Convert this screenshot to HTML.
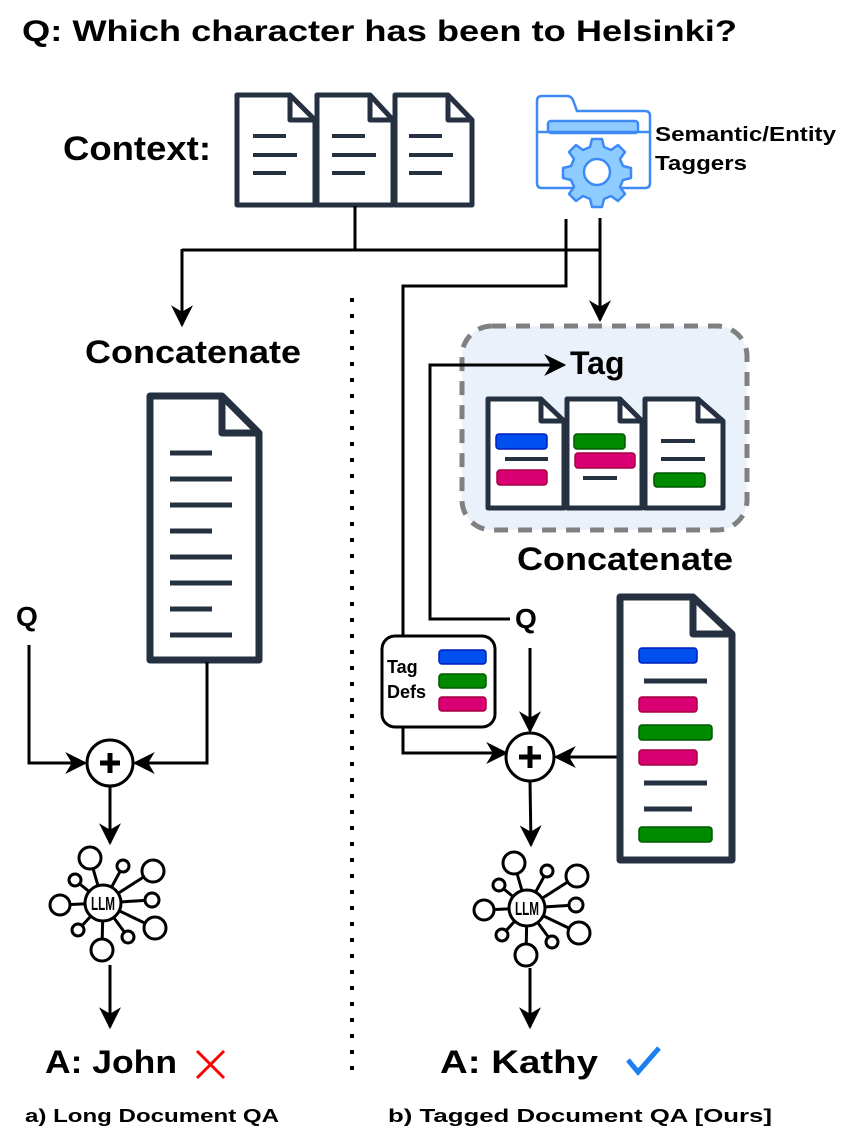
<!DOCTYPE html>
<html><head><meta charset="utf-8"><style>
html,body{margin:0;padding:0;background:#fff;}
svg{display:block;}
text{font-family:"Liberation Sans",Arial,sans-serif;font-weight:bold;fill:#000;}
</style></head><body>
<svg width="846" height="1145" viewBox="0 0 846 1145" xmlns="http://www.w3.org/2000/svg">
<defs>
<marker id="ah" viewBox="0 0 20 20" refX="18" refY="10" markerWidth="22" markerHeight="22" markerUnits="userSpaceOnUse" orient="auto">
<path d="M0,0 L20,10 L0,20 L6,10 Z" fill="#000"/>
</marker>
<g id="llm">
<g fill="#fff" stroke="#000" stroke-width="3">
<line x1="0" y1="0" x2="-13" y2="-45"/><line x1="0" y1="0" x2="20" y2="-37"/><line x1="0" y1="0" x2="50" y2="-32"/>
<line x1="0" y1="0" x2="-28" y2="-23"/><line x1="0" y1="0" x2="-43" y2="2"/><line x1="0" y1="0" x2="49" y2="-3"/>
<line x1="0" y1="0" x2="-25" y2="27"/><line x1="0" y1="0" x2="52" y2="25"/><line x1="0" y1="0" x2="25" y2="34"/><line x1="0" y1="0" x2="-1" y2="47"/>
<circle cx="-13" cy="-45" r="11"/><circle cx="20" cy="-37" r="6"/><circle cx="50" cy="-32" r="11"/>
<circle cx="-28" cy="-23" r="6"/><circle cx="-43" cy="2" r="10"/><circle cx="49" cy="-3" r="7"/>
<circle cx="-25" cy="27" r="6"/><circle cx="52" cy="25" r="11"/><circle cx="25" cy="34" r="6"/><circle cx="-1" cy="47" r="11"/>
<circle cx="0" cy="0" r="18"/>
</g>
<text x="0" y="7" font-size="18" text-anchor="middle" textLength="24" lengthAdjust="spacingAndGlyphs">LLM</text>
</g>
</defs>

<text x="22" y="41" font-size="30" textLength="715" lengthAdjust="spacingAndGlyphs">Q: Which character has been to Helsinki?</text>
<text x="63" y="160" font-size="34" textLength="148" lengthAdjust="spacingAndGlyphs">Context:</text>

<g fill="#fff" stroke="#253040" stroke-width="5" stroke-linejoin="round">
<path d="M237,95 H290 L315,120 V205 H237 Z"/><path d="M290,95 V120 H315" fill="none"/>
<path d="M317,95 H370 L393,120 V205 H317 Z"/><path d="M370,95 V120 H393" fill="none"/>
<path d="M395,95 H448 L472,120 V205 H395 Z"/><path d="M448,95 V120 H472" fill="none"/>
</g>
<g stroke="#253040" stroke-width="4">
<line x1="253" y1="136" x2="286" y2="136"/><line x1="253" y1="155" x2="297" y2="155"/><line x1="253" y1="173" x2="286" y2="173"/>
<line x1="332" y1="136" x2="365" y2="136"/><line x1="332" y1="155" x2="376" y2="155"/><line x1="332" y1="173" x2="365" y2="173"/>
<line x1="409" y1="136" x2="442" y2="136"/><line x1="409" y1="155" x2="453" y2="155"/><line x1="409" y1="173" x2="442" y2="173"/>
</g>

<g stroke="#3d8af7" stroke-width="2.5" fill="#fff">
<path d="M537,101 Q537,96 542,96 H567 Q571,96 573,100 L577,111 H645 Q650,111 650,116 V183 Q650,188 645,188 H542 Q537,188 537,183 Z"/>
<rect x="548" y="121" width="90" height="12" rx="3" fill="#8ecbff"/>
<line x1="537" y1="132" x2="650" y2="132"/>
<path d="M592,139 h10 l2,8 l7,3 l7,-5 l7,7 l-5,7 l3,7 l8,2 v10 l-8,2 l-3,7 l5,7 l-7,7 l-7,-5 l-7,3 l-2,8 h-10 l-2,-8 l-7,-3 l-7,5 l-7,-7 l5,-7 l-3,-7 l-8,-2 v-10 l8,-2 l3,-7 l-5,-7 l7,-7 l7,5 l7,-3 Z" fill="#8ecbff" stroke-linejoin="round"/>
<circle cx="597" cy="172" r="13" fill="#fff"/>
</g>
<text x="655" y="141" font-size="20" textLength="181" lengthAdjust="spacingAndGlyphs">Semantic/Entity</text>
<text x="655" y="170" font-size="20" textLength="92" lengthAdjust="spacingAndGlyphs">Taggers</text>

<g stroke="#000" stroke-width="3" fill="none">
<line x1="355" y1="206" x2="355" y2="250"/>
<line x1="182" y1="250" x2="600" y2="250"/>
<line x1="182" y1="249" x2="182" y2="325" marker-end="url(#ah)"/>
<line x1="600" y1="218" x2="600" y2="320" marker-end="url(#ah)"/>
<polyline points="566,219 566,286 403,286 403,637"/>
</g>

<line x1="352" y1="298" x2="352" y2="1082" stroke="#000" stroke-width="4" stroke-dasharray="4,12"/>

<text x="85" y="363" font-size="32" textLength="216" lengthAdjust="spacingAndGlyphs">Concatenate</text>
<g fill="#fff" stroke="#253040" stroke-width="7" stroke-linejoin="round">
<path d="M150,396 H222 L259,433 V660 H150 Z"/><path d="M222,396 V433 H259" fill="none"/>
</g>
<g stroke="#253040" stroke-width="5">
<line x1="170" y1="453" x2="212" y2="453"/><line x1="170" y1="479" x2="232" y2="479"/>
<line x1="170" y1="505" x2="232" y2="505"/><line x1="170" y1="531" x2="212" y2="531"/>
<line x1="170" y1="557" x2="232" y2="557"/><line x1="170" y1="583" x2="232" y2="583"/>
<line x1="170" y1="609" x2="212" y2="609"/><line x1="170" y1="635" x2="232" y2="635"/>
</g>
<text x="16" y="626" font-size="28">Q</text>
<g stroke="#000" stroke-width="3" fill="none">
<polyline points="29,645 29,763 85,763" marker-end="url(#ah)"/>
<polyline points="207,662 207,763 135,763" marker-end="url(#ah)"/>
<line x1="110" y1="787" x2="110" y2="843" marker-end="url(#ah)"/>
<line x1="110" y1="965" x2="110" y2="1027" marker-end="url(#ah)"/>
</g>
<circle cx="110" cy="763" r="23" fill="#fff" stroke="#000" stroke-width="3"/>
<path d="M100,763 H120 M110,753 V773" stroke="#000" stroke-width="5"/>
<use href="#llm" x="103" y="903"/>
<text x="45" y="1073" font-size="32" textLength="132" lengthAdjust="spacingAndGlyphs">A: John</text>
<path d="M197,1051 L224,1078 M224,1051 L197,1078" stroke="#f00" stroke-width="3"/>
<text x="25" y="1122" font-size="18" textLength="254" lengthAdjust="spacingAndGlyphs">a) Long Document QA</text>

<rect x="462" y="326" width="285" height="204" rx="30" fill="#eaf1fb" stroke="#808080" stroke-width="5" stroke-dasharray="14,10"/>
<text x="570" y="374" font-size="32">Tag</text>
<g fill="#fff" stroke="#253040" stroke-width="5" stroke-linejoin="round">
<path d="M488,399 H541 L564,421 V508 H488 Z"/><path d="M541,399 V421 H564" fill="none"/>
<path d="M567,399 H620 L642,421 V508 H567 Z"/><path d="M620,399 V421 H642" fill="none"/>
<path d="M645,399 H698 L723,421 V508 H645 Z"/><path d="M698,399 V421 H723" fill="none"/>
</g>
<g stroke-width="1.5">
<rect x="496" y="434" width="51" height="15" rx="3" fill="#0050ef" stroke="#001dbc"/>
<rect x="497" y="470" width="50" height="15" rx="3" fill="#d80073" stroke="#a50040"/>
<rect x="574" y="434" width="51" height="15" rx="3" fill="#008a00" stroke="#005700"/>
<rect x="575" y="453" width="60" height="15" rx="3" fill="#d80073" stroke="#a50040"/>
<rect x="654" y="473" width="51" height="14" rx="3" fill="#008a00" stroke="#005700"/>
</g>
<g stroke="#253040" stroke-width="4">
<line x1="505" y1="459" x2="548" y2="459"/><line x1="583" y1="478" x2="617" y2="478"/>
<line x1="661" y1="441" x2="695" y2="441"/><line x1="661" y1="459" x2="705" y2="459"/>
</g>
<text x="517" y="570" font-size="32" textLength="216" lengthAdjust="spacingAndGlyphs">Concatenate</text>
<text x="515" y="628" font-size="28">Q</text>

<g stroke="#000" stroke-width="3" fill="none">
<polyline points="510,619 430,619 430,365 564,365" marker-end="url(#ah)"/>
<line x1="530" y1="648" x2="530" y2="731" marker-end="url(#ah)"/>
<polyline points="403,727 403,753 506,753" marker-end="url(#ah)"/>
<line x1="618" y1="757" x2="556" y2="757" marker-end="url(#ah)"/>
<line x1="530" y1="781" x2="531" y2="845" marker-end="url(#ah)"/>
<line x1="530" y1="968" x2="530" y2="1027" marker-end="url(#ah)"/>
</g>
<circle cx="530" cy="757" r="24" fill="#fff" stroke="#000" stroke-width="3"/>
<path d="M519,757 H541 M530,746 V768" stroke="#000" stroke-width="5"/>

<rect x="382" y="636" width="113" height="91" rx="13" fill="#fff" stroke="#000" stroke-width="3"/>
<text x="387" y="673" font-size="18">Tag</text>
<text x="387" y="698" font-size="18">Defs</text>
<g stroke-width="1.5">
<rect x="439" y="650" width="47" height="14" rx="3" fill="#0050ef" stroke="#001dbc"/>
<rect x="439" y="674" width="47" height="14" rx="3" fill="#008a00" stroke="#005700"/>
<rect x="439" y="697" width="47" height="14" rx="3" fill="#d80073" stroke="#a50040"/>
</g>

<g fill="#fff" stroke="#253040" stroke-width="7" stroke-linejoin="round">
<path d="M620,597 H693 L732,634 V860 H620 Z"/><path d="M693,597 V634 H732" fill="none"/>
</g>
<g stroke-width="1.5">
<rect x="639" y="648" width="58" height="15" rx="3" fill="#0050ef" stroke="#001dbc"/>
<rect x="639" y="697" width="58" height="15" rx="3" fill="#d80073" stroke="#a50040"/>
<rect x="639" y="725" width="73" height="15" rx="3" fill="#008a00" stroke="#005700"/>
<rect x="639" y="750" width="58" height="15" rx="3" fill="#d80073" stroke="#a50040"/>
<rect x="639" y="827" width="73" height="15" rx="3" fill="#008a00" stroke="#005700"/>
</g>
<g stroke="#253040" stroke-width="5">
<line x1="644" y1="681" x2="707" y2="681"/><line x1="644" y1="783" x2="707" y2="783"/><line x1="644" y1="809" x2="692" y2="809"/>
</g>

<use href="#llm" x="527" y="908"/>
<text x="440" y="1073" font-size="32" textLength="158" lengthAdjust="spacingAndGlyphs">A: Kathy</text>
<path d="M628,1060 L638,1072 L659,1048" stroke="#1a7ff0" stroke-width="5" fill="none"/>
<text x="388" y="1122" font-size="18" textLength="384" lengthAdjust="spacingAndGlyphs">b) Tagged Document QA [Ours]</text>
</svg>
</body></html>
